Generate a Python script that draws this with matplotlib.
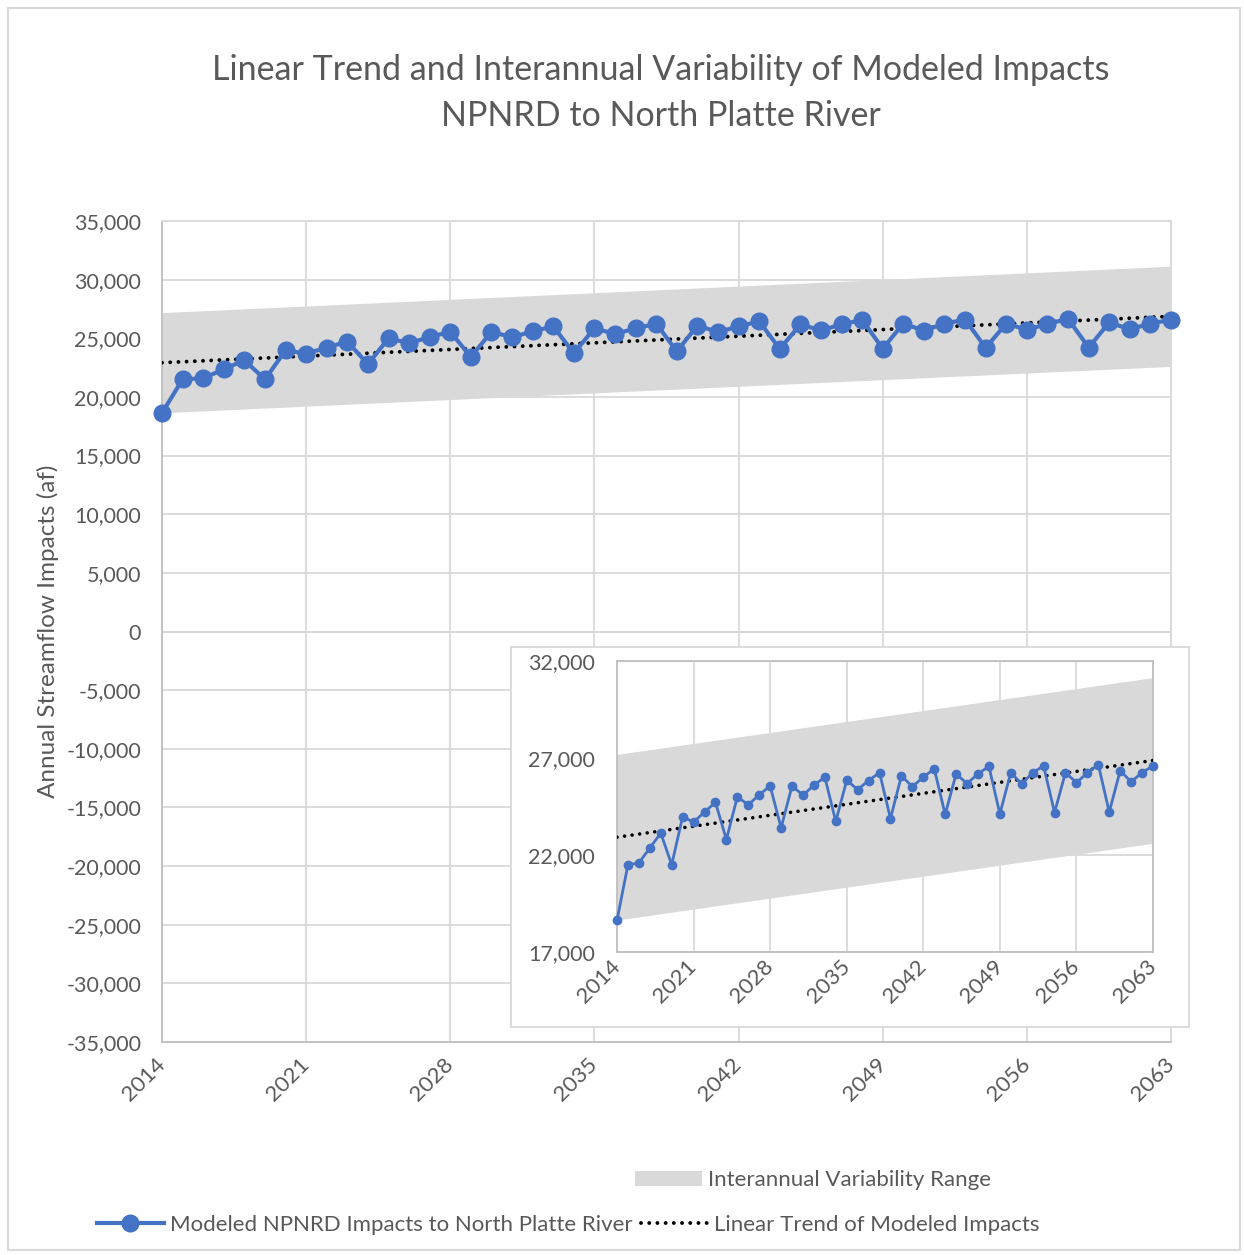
# -*- coding: utf-8 -*-
"""
NPNRD -> North Platte River: modeled impacts, linear trend and variability band
"""
import numpy as np
import matplotlib
matplotlib.use("Agg")
import matplotlib.pyplot as plt
from matplotlib.ticker import FuncFormatter
from matplotlib.patches import Patch, Rectangle
from matplotlib.lines import Line2D

# ---------- data ---------------------------------------------------------- #
years = list(range(2014, 2064))
impacts = [18630, 21500, 21590, 22360, 23130, 21500, 23970, 23700, 24210, 24720,
           22790, 25000, 24590, 25100, 25560, 23400, 25560, 25080, 25600, 26010,
           23730, 25850, 25370, 25840, 26250, 23880, 26080, 25530, 26010, 26450,
           24090, 26180, 25680, 26180, 26570, 24120, 26250, 25660, 26250, 26590,
           24190, 26250, 25730, 26230, 26660, 24210, 26350, 25770, 26250, 26590]
var_half_width = 4270          # half width of the interannual variability band (af)
year_ticks = list(range(2014, 2064, 7))
main_yticks = list(range(-35000, 35001, 5000))
inset_yticks = [17000, 22000, 27000, 32000]

TITLE = "Linear Trend and Interannual Variability of Modeled Impacts\nNPNRD to North Platte River"
LBL_SERIES = "Modeled NPNRD Impacts to North Platte River"
LBL_TREND = "Linear Trend of Modeled Impacts"
LBL_BAND = "Interannual Variability Range"

# ---------- style --------------------------------------------------------- #
BLUE = "#4472C4"
BAND = "#d9d9d9"
GRID = "#d9d9d9"
SPINE = "#bfbfbf"
TXT = "#595959"
DOTS = (0, (0.01, 2.1))
plt.rcParams["font.family"] = ["Lato", "DejaVu Sans"]

W, H = 1244, 1255
def fx(px): return px / W
def fy(py): return 1 - py / H

x = np.array(years)
y = np.array(impacts)
coef = np.polyfit(x, y, 1)
trend = np.polyval(coef, x)
lo, hi = trend - var_half_width, trend + var_half_width

fig = plt.figure(figsize=(W / 100, H / 100), dpi=100)
fig.patches.append(Rectangle((fx(8), fy(1250)), fx(1232), 1242 / H, transform=fig.transFigure,
                             fill=False, edgecolor=GRID, lw=1.5))

fig.text(fx(661), fy(93), TITLE, ha="center", va="center", fontsize=24.5,
         color=TXT, linespacing=1.5)

comma = FuncFormatter(lambda v, p: f"{int(v):,}")


def draw(ax, lw, ms, trend_lw):
    ax.fill_between(x, lo, hi, color=BAND, lw=0, zorder=1)
    ax.plot(x, trend, color="black", lw=trend_lw, linestyle=DOTS,
            dash_capstyle="round", zorder=3)
    ax.plot(x, y, color=BLUE, lw=lw, marker="o", ms=ms, zorder=4, clip_on=False)
    ax.set_xlim(2014, 2063)
    ax.set_xticks(year_ticks)
    ax.yaxis.set_major_formatter(comma)
    ax.grid(True, color=GRID, lw=1.3, zorder=0)
    ax.set_axisbelow(True)
    ax.tick_params(length=0, colors=TXT)
    for s in ax.spines.values():
        s.set_color(SPINE)
        s.set_linewidth(1.3)
    for t in ax.get_xticklabels():
        t.set_rotation(45)
        t.set_ha("right")
        t.set_va("center")
        t.set_rotation_mode("anchor")


# ---------- main axes ----------------------------------------------------- #
ax = fig.add_axes([fx(162), fy(1042), fx(1009), 821 / H])
ax.set_ylim(-35000, 35000)
ax.set_yticks(main_yticks)
draw(ax, 3, 12, 2.8)
ax.axhline(0, color=SPINE, lw=1.3, zorder=0.5)
ax.spines["top"].set_color(GRID)
ax.spines["right"].set_color(GRID)
ax.tick_params(axis="y", labelsize=15.5, pad=15)
ax.tick_params(axis="x", labelsize=16, pad=14)
ax.set_ylabel("Annual Streamflow Impacts (af)", fontsize=17.5, color=TXT, labelpad=5)

# ---------- inset --------------------------------------------------------- #
frame = fig.add_axes([fx(511), fy(1027), fx(678), 380 / H])
frame.set_xticks([])
frame.set_yticks([])
for s in frame.spines.values():
    s.set_color(GRID)
    s.set_linewidth(1.3)
frame.set_zorder(5)

ins = fig.add_axes([fx(617), fy(952), fx(536), 291 / H])
ins.set_zorder(6)
ins.set_ylim(17000, 32000)
ins.set_yticks(inset_yticks)
draw(ins, 2, 6, 2.6)
ins.tick_params(axis="y", labelsize=15.5, pad=16)
ins.tick_params(axis="x", labelsize=16, pad=8)

# ---------- legend -------------------------------------------------------- #
h_band = [Patch(facecolor=BAND, edgecolor="none")]
fig.legend(h_band, [LBL_BAND], loc="center left", bbox_to_anchor=(fx(635), fy(1180)),
           frameon=False, fontsize=16, handlelength=3.0, handleheight=0.65,
           handletextpad=0.3, borderpad=0, borderaxespad=0, labelcolor=TXT)

h_lines = [Line2D([], [], color=BLUE, lw=3, marker="o", ms=12),
           Line2D([], [], color="black", lw=2.8, linestyle=DOTS, dash_capstyle="round")]
fig.legend(h_lines, [LBL_SERIES, LBL_TREND], loc="center left", ncol=2,
           bbox_to_anchor=(fx(97), fy(1225)), frameon=False, fontsize=16,
           handlelength=3.0, handletextpad=0.3, columnspacing=0.35, borderpad=0,
           borderaxespad=0, labelcolor=TXT)

fig.savefig("out.png", dpi=100)
